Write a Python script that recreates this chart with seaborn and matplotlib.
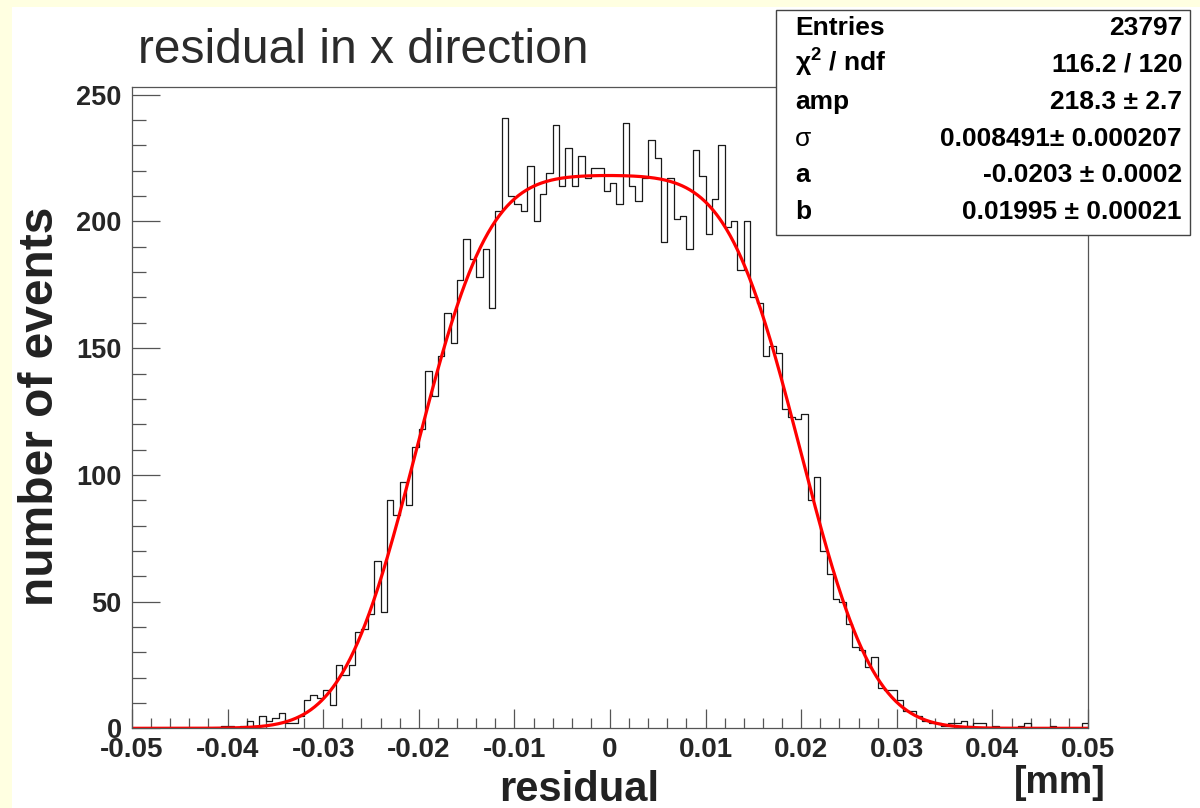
import numpy as np
import pandas as pd
import matplotlib
matplotlib.use("Agg")
import matplotlib.pyplot as plt
from matplotlib.patches import Rectangle
from math import erf
import seaborn as sns

# ---------------- data ----------------
x_min, x_max, n_bins = -0.05, 0.05, 150
counts = [
    0, 0, 0, 0, 0, 0, 0, 0, 0, 0,            # 0-9
    0, 0, 0, 0, 1, 1, 0, 1, 3, 1,            # 10-19
    5, 3, 4, 6, 2, 2, 5, 11, 13, 12,         # 20-29
    15, 9, 25, 21, 25, 38, 39, 45, 66, 46,   # 30-39
    90, 84, 97, 88, 111, 118, 141, 131, 147, 164,   # 40-49
    152, 177, 193, 185, 178, 189, 166, 204, 241, 210,  # 50-59
    207, 204, 222, 200, 211, 219, 238, 214, 229, 214,  # 60-69
    226, 217, 221, 221, 212, 215, 207, 239, 214, 208,  # 70-79
    217, 232, 225, 192, 217, 201, 202, 189, 228, 218,  # 80-89
    195, 209, 230, 198, 200, 181, 200, 170, 168, 147,  # 90-99
    151, 148, 126, 123, 122, 124, 90, 99, 70, 61,      # 100-109
    51, 50, 41, 32, 31, 24, 28, 16, 15, 15,            # 110-119
    11, 7, 7, 5, 3, 2, 2, 1, 2, 2,                     # 120-129
    3, 1, 2, 2, 0, 1, 0, 0, 0, 1,                      # 130-139
    2, 0, 0, 0, 1, 0, 0, 0, 0, 2,                      # 140-149
]
x_ticks = [-0.05, -0.04, -0.03, -0.02, -0.01, 0.0, 0.01, 0.02, 0.03, 0.04, 0.05]
x_tick_labels = ["-0.05", "-0.04", "-0.03", "-0.02", "-0.01", "0",
                 "0.01", "0.02", "0.03", "0.04", "0.05"]
y_ticks = [0, 50, 100, 150, 200, 250]
y_tick_labels = ["0", "50", "100", "150", "200", "250"]

# fit parameters (from the stats box)
fit_amp, fit_sigma, fit_a, fit_b = 218.3, 0.008491, -0.0203, 0.01995

stat_labels = ["Entries", "\u03c7$^{2}$ / ndf", "amp", "\u03c3", "a", "b"]
stat_values = ["23797", "116.2 / 120", "218.3 \u00b1 2.7", "0.008491\u00b1 0.000207",
               "-0.0203 \u00b1 0.0002", "0.01995 \u00b1 0.00021"]

title_text = "residual in x direction"
x_title = "residual"
x_unit = "[mm]"
y_title = "number of events"

# ---------------- style ----------------
sns.set_theme(style="white")
plt.rcParams["font.family"] = ["Liberation Sans", "DejaVu Sans"]
plt.rcParams["mathtext.fontset"] = "custom"
plt.rcParams["mathtext.rm"] = "Liberation Sans"
plt.rcParams["mathtext.it"] = "Liberation Sans"
plt.rcParams["mathtext.bf"] = "Liberation Sans:bold"
plt.rcParams["mathtext.default"] = "regular"

W, H = 1200, 808
fig = plt.figure(figsize=(W / 100, H / 100), dpi=100, facecolor="#FFFFE1")

def fx(px):
    return px / W

def fy(py):
    return 1 - py / H

# white pad
fig.add_artist(Rectangle((fx(12), 0), 1 - fx(12), fy(7), transform=fig.transFigure,
                         facecolor="white", edgecolor="none", zorder=-5))

ax_l, ax_r, ax_t, ax_b = 132, 1088, 87, 728.3
ax = fig.add_axes([fx(ax_l), fy(ax_b), fx(ax_r - ax_l), (ax_b - ax_t) / H])
ax.set_facecolor("white")

edges = np.linspace(x_min, x_max, n_bins + 1)
centers = 0.5 * (edges[:-1] + edges[1:])
df = pd.DataFrame({"residual": centers, "count": counts})

sns.histplot(data=df, x="residual", weights="count", bins=n_bins, binrange=(x_min, x_max),
             element="step", fill=False, color="#1a1a1a", linewidth=0.9, ax=ax)

xf = np.linspace(x_min, x_max, 1000)
yf = [fit_amp * 0.5 * (erf((v - fit_a) / fit_sigma) - erf((v - fit_b) / fit_sigma)) for v in xf]
sns.lineplot(x=xf, y=yf, color="#ff0000", linewidth=2.3, ax=ax)

ax.set_xlim(x_min, x_max)
ax.set_ylim(0, max(counts) * 1.05)
ax.set_xlabel("")
ax.set_ylabel("")

spine_col = "#555555"
for s in ["left", "right", "top", "bottom"]:
    ax.spines[s].set_color(spine_col)
    ax.spines[s].set_linewidth(0.9)
    ax.spines[s].set_visible(True)

ax.set_xticks(x_ticks)
ax.set_xticklabels(x_tick_labels, fontsize=20, fontweight="bold")
ax.set_xticks(np.arange(-0.05, 0.0501, 0.002), minor=True)
ax.set_yticks(y_ticks)
ax.set_yticklabels(y_tick_labels, fontsize=19.5, fontweight="bold")
ax.set_yticks(np.arange(0, 251, 10), minor=True)

ax.tick_params(axis="y", which="major", direction="in", length=20, width=0.9,
               color=spine_col, left=True, right=False, pad=7.5)
ax.tick_params(axis="y", which="minor", direction="in", length=10, width=0.9,
               color=spine_col, left=True, right=False)
ax.tick_params(axis="x", which="major", direction="in", length=13.5, width=0.9,
               color=spine_col, bottom=True, top=False, pad=6)
ax.tick_params(axis="x", which="minor", direction="in", length=7, width=0.9,
               color=spine_col, bottom=True, top=False)

# titles
fig.text(fx(138), fy(63), title_text, fontsize=34.5, color="#2b2b2b", ha="left", va="baseline")
fig.text(fx(579), fy(801), x_title, fontsize=30, fontweight="bold", color="#222222",
         ha="center", va="baseline")
fig.text(fx(1060), fy(793), x_unit, fontsize=27, fontweight="bold", color="#222222",
         ha="center", va="baseline")
fig.text(fx(41), fy(406), y_title, fontsize=34.5, fontweight="bold", color="#222222",
         ha="center", va="center", rotation=90)

# stats box
fig.add_artist(Rectangle((fx(776), fy(235)), fx(1190 - 776), (235 - 10) / H,
                         transform=fig.transFigure, facecolor="white",
                         edgecolor="#444444", linewidth=1.0, zorder=10))
row_base = [35, 72, 109, 145.5, 182, 219]
for lab, val, yb in zip(stat_labels, stat_values, row_base):
    fw = "normal" if lab == "\u03c3" else "bold"
    fig.text(fx(795), fy(yb), lab, fontsize=19, fontweight=fw, color="black",
             ha="left", va="baseline", zorder=11)
    fig.text(fx(1182), fy(yb), val, fontsize=19, fontweight="bold", color="black",
             ha="right", va="baseline", zorder=11)

fig.savefig("out.png", dpi=100, facecolor=fig.get_facecolor())
